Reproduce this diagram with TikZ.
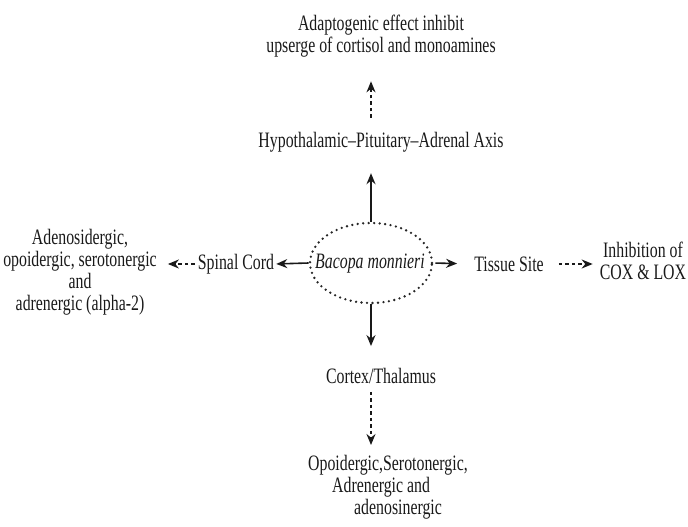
\documentclass[tikz,border=0pt]{standalone}
\usepackage{fontspec}
\setmainfont[FakeStretch=0.72]{Liberation Serif}
\usetikzlibrary{shapes.geometric,arrows.meta}
\begin{document}
\begin{tikzpicture}[x=1pt,y=-1pt,
  lbl/.style={font=\fontsize{22}{22}\selectfont, inner sep=0pt, align=center, text=black!90},
  tip/.style={-{Stealth[length=11pt,width=9pt]}},
  solidarr/.style={tip, line width=1.6pt, draw=black!90},
  dasharr/.style={tip, line width=1.6pt, draw=black!90, dash pattern=on 3.5pt off 3pt},
  dotell/.style={ellipse, draw=black!85, line width=2.6pt, line cap=round,
     dash pattern=on 0pt off 5.5pt, minimum width=122pt, minimum height=80pt, inner sep=0pt}
]
\useasboundingbox (0,0) rectangle (688,527);

\node[lbl] (top) at (381,36) {Adaptogenic effect inhibit\\upserge of cortisol and monoamines};
\node[lbl] (hpa) at (381,142) {Hypothalamic–Pituitary–Adrenal Axis};
\node[dotell] (bac) at (371,263) {};
\node[lbl, font=\fontsize{22}{22}\selectfont\itshape] (bactext) at (370,264) {Bacopa monnieri};
\node[lbl] (spinal) at (236,264) {Spinal Cord};
\node[lbl] (left) at (80,272) {Adenosidergic,\\opoidergic, serotonergic\\and\\adrenergic (alpha-2)};
\node[lbl] (tissue) at (509,264) {Tissue Site};
\node[lbl] (cox) at (643,261) {Inhibition of\\COX \& LOX};
\node[lbl] (cortex) at (381,376) {Cortex/Thalamus};
\node[lbl, align=left, anchor=north west] (bottom) at (308,455)
  {Opoidergic,Serotonergic,\\\hspace*{24pt}Adrenergic and\\\hspace*{46pt}adenosinergic};

% connectors
\draw[solidarr, shorten >=21pt] (bac.north) -- (bac.north |- hpa.south);
\draw[dasharr, shorten <=14pt, shorten >=24pt] (hpa.north -| bac.north) -- (top.south -| bac.north);
\draw[solidarr, shorten >=2pt] (bac.west) -- (spinal.east);
\draw[dasharr, shorten <=3pt, shorten >=11pt] (spinal.west) -- (left.east |- spinal.west);
\draw[solidarr, shorten <=2pt, shorten >=17pt] (bac.east) -- (tissue.west);
\draw[dasharr, shorten <=15pt, shorten >=7pt] (tissue.east) -- (cox.west |- tissue.east);
\draw[solidarr, shorten >=22pt] (bac.south) -- (bac.south |- cortex.north);
\draw[dasharr, shorten <=8pt, shorten >=10pt] (cortex.south -| bac.south) -- (bottom.north -| bac.south);
\end{tikzpicture}
\end{document}
